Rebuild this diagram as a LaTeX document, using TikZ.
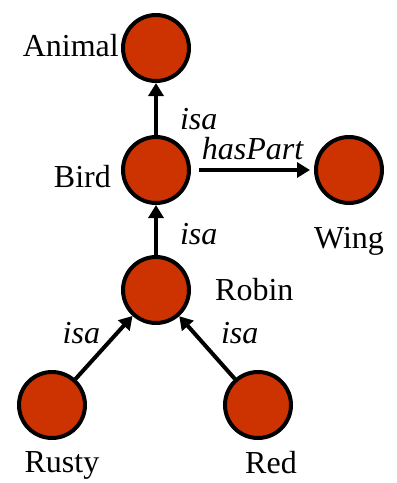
\documentclass[tikz,border=0pt]{standalone}
\usepackage{fontspec}
\setmainfont{Liberation Serif}
\usetikzlibrary{arrows.meta,positioning}
\definecolor{concept}{RGB}{204,51,0}

\begin{document}
\begin{tikzpicture}[x=1pt,y=-1pt,
        font=\fontsize{32}{38}\selectfont,
        every label/.style={inner sep=2pt},
        class/.style={circle,draw,line width=4pt,fill=concept,minimum size=66pt,inner sep=0pt},
        link/.style={line width=4pt,-{Triangle[length=13pt,width=15pt]}},
        rel/.style={font=\fontsize{32}{38}\selectfont\itshape,inner sep=2pt}]
    \useasboundingbox (0,0) rectangle (397,483);

        \node [class, label={[label distance=0pt,yshift=2pt]left:Animal}] (animal) at (156,48) {};
        \node [class, label={[label distance=8pt,yshift=-7pt]left:Bird}] (bird) at (156,170) {};
        \node [class, label={[label distance=20pt]below:Wing}] (wing) at (349,170) {};
        \node [class, label={[label distance=22pt]right:Robin}] (robin) at (156,290) {};
        \node [class, label={[label distance=9pt,xshift=10pt]below:Rusty}] (rusty) at (52,405) {};
        \node [class, label={[label distance=9pt,xshift=13pt]below:Red}] (red) at (258,405) {};

    \draw
        (bird) edge[link] node[rel, pos=0.31, right=20pt] {isa} (animal)
        (bird) edge[link, shorten <=8pt, shorten >=4pt] node[rel, above=6pt] {hasPart} (wing)
        (robin) edge[link] node[rel, pos=0.41, right=20pt] {isa} (bird)
        (rusty) edge[link] node[rel, anchor=south east] {isa} (robin)
        (red) edge[link] node[rel, anchor=south west, xshift=10pt] {isa} (robin)
        ;
\end{tikzpicture}
\end{document}
